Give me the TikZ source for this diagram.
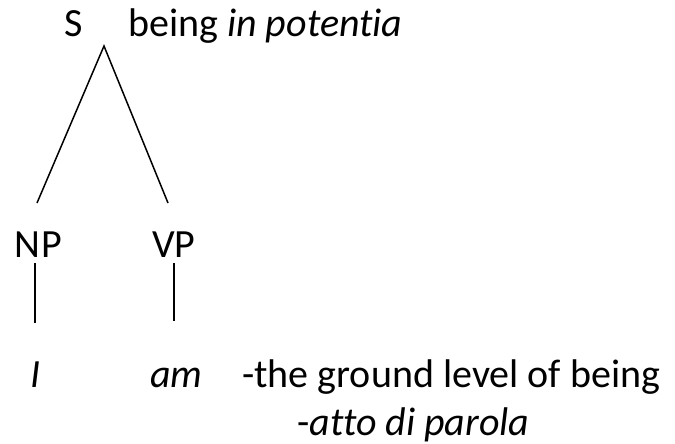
\documentclass[tikz,border=0pt]{standalone}
\usepackage{fontspec}
\setmainfont[Ligatures=CommonOff]{Carlito}
\begin{document}
\begin{tikzpicture}[x=1pt,y=-1pt,
  lbl/.style={anchor=base west,inner sep=0pt,font=\fontsize{40}{48}\selectfont},
  branch/.style={line width=1.5pt,black}]
\useasboundingbox (0,0) rectangle (675,444);
\node[lbl] (S) at (64,37) {S};
\node[lbl] (being) at (128,37) {being \textit{in potentia}};
\node[lbl] (NP) at (14,257) {N\kern1ptP};
\node[lbl] (VP) at (152,257) {VP};
\node[lbl] (I) at (30,387) {\textit{I}};
\node[lbl] (am) at (150,387) {\textit{am}};
\node[lbl] (ground) at (242,387) {-the ground level of being};
\node[lbl] (atto) at (297,435) {-\textit{atto di parola}};
\coordinate (apex) at (104,46);
\coordinate (npT) at (37,203);
\coordinate (vpT) at (168,203);
\coordinate (np1) at (35,263);
\coordinate (np2) at (35,323);
\coordinate (vp1) at (174,263);
\coordinate (vp2) at (174,321);
\draw[branch] (npT) -- (apex) -- (vpT);
\draw[branch] (np1) -- (np2);
\draw[branch] (vp1) -- (vp2);
\end{tikzpicture}
\end{document}
